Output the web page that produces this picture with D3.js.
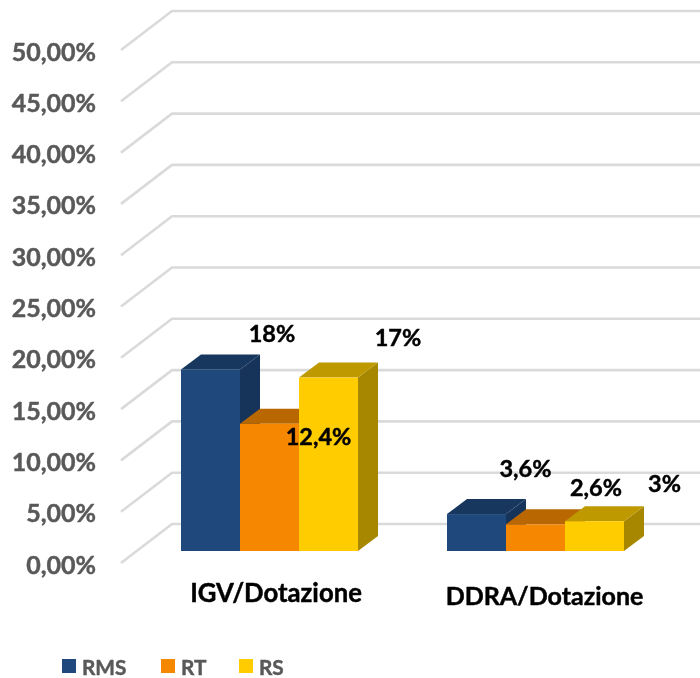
<!DOCTYPE html>
<html><head><meta charset="utf-8">
<script src="https://cdn.jsdelivr.net/npm/d3@7/dist/d3.min.js"></script>
<style>html,body{margin:0;padding:0;background:#fff}svg{display:block}text{font-family:Lato,sans-serif;font-weight:700;stroke-width:.45px;stroke-linejoin:round}</style>
</head><body><div id="c"></div>
<script>
const categories = ["IGV/Dotazione", "DDRA/Dotazione"];
const seriesNames = ["RMS", "RT", "RS"];
const rms = [17.7, 3.6];
const rt = [12.4, 2.6];
const rs = [16.9, 2.9];
const rmsLabels = ["18%", "3,6%"];
const rtLabels = ["12,4%", "2,6%"];
const rsLabels = ["17%", "3%"];
const ticks = [0, 5, 10, 15, 20, 25, 30, 35, 40, 45, 50];

const W = 700, H = 678;
const svg = d3.select("#c").append("svg").attr("width", W).attr("height", H);
const defs = svg.append("defs");
defs.append("filter").attr("id", "soft").attr("color-interpolation-filters", "sRGB").append("feGaussianBlur").attr("stdDeviation", 0.5);
defs.append("filter").attr("id", "softText").attr("color-interpolation-filters", "sRGB").append("feGaussianBlur").attr("stdDeviation", 0.35);

const series = [rms, rt, rs];
const labels = [rmsLabels, rtLabels, rsLabels];
const palette = [
  {front: "#1f497d", top: "#17375e", side: "#16335a"},
  {front: "#f58800", top: "#b96700", side: "#a85d00"},
  {front: "#ffcc00", top: "#bf9900", side: "#a88700"}
];

const y = d3.scaleLinear().domain([0, 50]).range([563, 50]);
const floorLift = 12, barDx = 20, barDy = 15, gridDx = 51, gridDy = 39, gridX0 = 121;
const x0 = d3.scaleOrdinal().domain(categories).range([181, 447]);
const x1 = d3.scaleBand().domain(seriesNames).range([0, 177]);
const barY = v => y(v) - floorLift;

// grid
const grid = svg.append("g").attr("filter", "url(#soft)");
grid.selectAll("path").data(ticks).join("path")
  .attr("fill", "none").attr("stroke", "#dadada").attr("stroke-width", 2.6)
  .attr("d", t => d3.line()([[gridX0, y(t)], [gridX0 + gridDx, y(t) - gridDy], [W, y(t) - gridDy]]));

// axis labels
const axis = d3.axisLeft(y).tickValues(ticks).tickSize(0).tickPadding(0)
  .tickFormat(t => t.toFixed(2).replace(".", ",") + "%");
const ag = svg.append("g").attr("transform", "translate(96,2)").attr("filter", "url(#softText)").call(axis);
ag.select(".domain").remove();
ag.selectAll("text").attr("fill", "#595959").attr("stroke", "#595959").style("font-size", "25px")
  .style("font-family", "Lato,sans-serif").style("font-weight", 700);

// bars
const barsG = svg.append("g").attr("filter", "url(#soft)");
categories.forEach((cat, ci) => {
  seriesNames.forEach((name, si) => {
    const v = series[si][ci];
    const xl = x0(cat) + x1(name), xr = xl + x1.bandwidth();
    const yt = barY(v), yb = barY(0);
    const g = barsG.append("g");
    g.append("path").attr("fill", palette[si].side)
      .attr("d", d3.line()([[xr, yt], [xr + barDx, yt - barDy], [xr + barDx, yb - barDy], [xr, yb]]) + "Z");
    g.append("path").attr("fill", palette[si].top)
      .attr("d", d3.line()([[xl, yt], [xl + barDx, yt - barDy], [xr + barDx, yt - barDy], [xr, yt]]) + "Z");
    g.append("rect").attr("x", xl).attr("y", yt).attr("width", xr - xl).attr("height", yb - yt)
      .attr("fill", palette[si].front);
  });
});

const textG = svg.append("g").attr("filter", "url(#softText)");

// data labels
const labelPos = [
  [[272, 333], [525.5, 468]],
  [[318.5, 436], [596, 487]],
  [[398, 337], [664.5, 483]]
];
seriesNames.forEach((name, si) => {
  categories.forEach((cat, ci) => {
    textG.append("text").text(labels[si][ci])
      .attr("x", labelPos[si][ci][0]).attr("y", labelPos[si][ci][1])
      .attr("text-anchor", "middle").attr("dominant-baseline", "central")
      .attr("fill", "#000").attr("stroke", "#000").style("font-size", "23.5px");
  });
});

// category labels
const catPos = [[276, 592], [544.5, 595]];
const catSize = [25.7, 25];
textG.selectAll(".cat").data(categories).join("text").attr("class", "cat").text(d => d)
  .attr("x", (d, i) => catPos[i][0]).attr("y", (d, i) => catPos[i][1])
  .attr("text-anchor", "middle").attr("dominant-baseline", "central")
  .attr("fill", "#000").attr("stroke", "#000").style("font-size", (d, i) => catSize[i] + "px");

// legend
const legX = [62, 161, 239];
seriesNames.forEach((name, i) => {
  svg.append("rect").attr("x", legX[i]).attr("y", 659).attr("width", 14).attr("height", 14).attr("fill", palette[i].front);
  textG.append("text").text(name).attr("x", legX[i] + 20).attr("y", 666)
    .attr("dominant-baseline", "central").attr("fill", "#595959").attr("stroke", "#595959").style("font-size", "20.8px");
});
</script></body></html>
